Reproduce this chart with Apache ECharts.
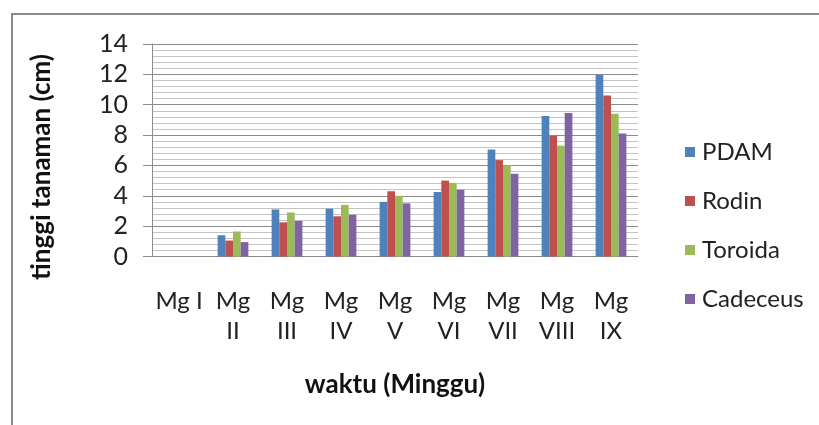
<!DOCTYPE html>
<html>
<head>
<meta charset="utf-8">
<script src="https://cdn.jsdelivr.net/npm/echarts@6/dist/echarts.min.js"></script>
<style>
html,body{margin:0;padding:0;background:#fff;}
#c{width:819px;height:425px;}
</style>
</head>
<body>
<div id="c"></div>
<script>
var categories = ['Mg I', 'Mg\nII', 'Mg\nIII', 'Mg\nIV', 'Mg\nV', 'Mg\nVI', 'Mg\nVII', 'Mg\nVIII', 'Mg\nIX'];
var pdam     = [0, 1.4, 3.1, 3.15, 3.6, 4.25, 7.05, 9.25, 11.95];
var rodin    = [0, 1.05, 2.25, 2.65, 4.3, 5.0, 6.35, 7.95, 10.6];
var toroida  = [0, 1.65, 2.9, 3.4, 4.0, 4.85, 6.0, 7.3, 9.4];
var cadeceus = [0, 0.95, 2.35, 2.75, 3.5, 4.4, 5.45, 9.45, 8.1];
var yTicks = [0, 2, 4, 6, 8, 10, 12, 14];
var xTitle = 'waktu (Minggu)';
var yTitle = 'tinggi tanaman (cm)';

var FONT = 'Lato, "Open Sans", sans-serif';
var chart = echarts.init(document.getElementById('c'));
function s(name, data, color) {
  return {
    name: name, type: 'bar', data: data, barGap: '0%', barCategoryGap: '43%',
    itemStyle: { color: color }
  };
}
chart.setOption({
  animation: false,
  backgroundColor: '#fff',
  textStyle: { fontFamily: FONT },
  grid: { left: 152, right: 181, top: 44, bottom: 168.5, containLabel: false },
  legend: {
    orient: 'vertical', left: 680, top: 135, itemGap: 25,
    itemWidth: 10, itemHeight: 10, icon: 'rect',
    textStyle: { fontSize: 24, lineHeight: 24, color: '#222', fontFamily: FONT, padding: [0, 0, 0, 2] },
    data: ['PDAM', 'Rodin', 'Toroida', 'Cadeceus']
  },
  xAxis: {
    type: 'category', data: categories,
    axisLine: { lineStyle: { color: '#8c8c8c', width: 1 } },
    axisTick: { show: false },
    axisLabel: { fontSize: 24, color: '#222', lineHeight: 30, margin: 30, interval: 0, fontFamily: FONT }
  },
  yAxis: {
    type: 'value', min: 0, max: 14, interval: 2,
    axisLine: { show: true, lineStyle: { color: '#8c8c8c', width: 1 } },
    axisTick: { show: true, inside: false, length: 9, lineStyle: { color: '#8c8c8c' } },
    axisLabel: {
      fontSize: 25, color: '#222', margin: 24, fontFamily: FONT,
      formatter: function (v) { return yTicks.indexOf(v) >= 0 ? String(v) : ''; }
    },
    splitLine: { show: true, lineStyle: { color: '#8c8c8c', width: 1 } },
    minorTick: { show: false, splitNumber: 5 },
    minorSplitLine: { show: true, lineStyle: { color: '#c4c4c4', width: 1 } }
  },
  graphic: [
    { type: 'line', shape: { x1: 12, y1: 14, x2: 819, y2: 14 }, style: { stroke: '#8a8a8a', lineWidth: 2 } },
    { type: 'line', shape: { x1: 12, y1: 13, x2: 12, y2: 425 }, style: { stroke: '#8a8a8a', lineWidth: 2 } },
    { type: 'text', x: 395, y: 385, style: { text: xTitle, font: 'bold 26px ' + FONT, fill: '#111', textAlign: 'center', textVerticalAlign: 'middle' } },
    { type: 'text', x: 42, y: 167, rotation: Math.PI / 2, style: { text: yTitle, font: 'bold 26px ' + FONT, fill: '#111', textAlign: 'center', textVerticalAlign: 'middle' } }
  ],
  series: [
    s('PDAM', pdam, '#4F81BD'),
    s('Rodin', rodin, '#C0504D'),
    s('Toroida', toroida, '#9BBB59'),
    s('Cadeceus', cadeceus, '#8064A2')
  ]
});
</script>
</body>
</html>
